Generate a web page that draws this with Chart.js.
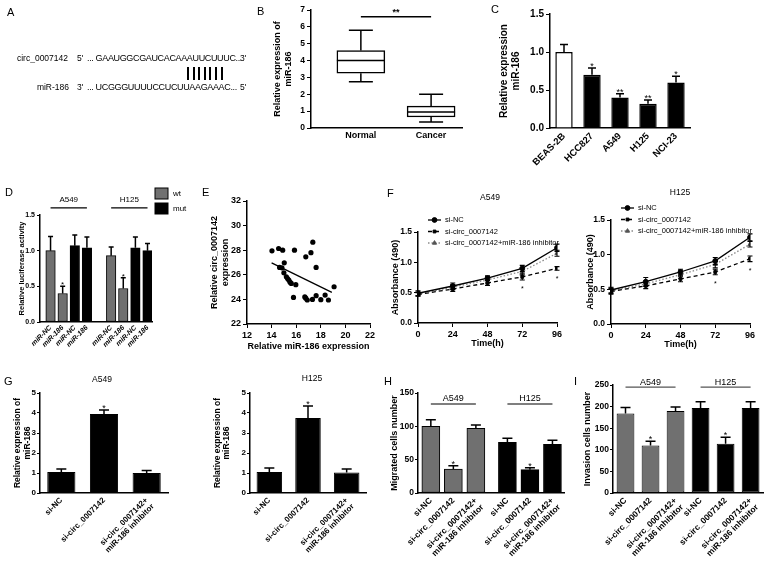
<!DOCTYPE html>
<html>
<head>
<meta charset="utf-8">
<title>circ_0007142 / miR-186</title>
<script src="https://cdn.jsdelivr.net/npm/chart.js@4.4.1/dist/chart.umd.min.js"></script>
<style>
  html, body { margin: 0; padding: 0; background: #fff; }
  body { position: relative; width: 767px; height: 574px; overflow: hidden; font-family: 'Liberation Sans', Arial, sans-serif; color: #000; }
  .txt { position: absolute; white-space: nowrap; line-height: 1; will-change: transform; }
  .pair { position: absolute; width: 2px; height: 13px; background: #000; }
</style>
</head>
<body>
<script>
// ---------- data ----------
// A: sequence alignment
const seqCirc = ['circ_0007142', "5'", '... GAAUGGCGAUCACAAAUUCUUUC...', "3'"];
const seqMir = ['miR-186', "3'", '... UCGGGUUUUCCUCUUAAGAAAC...', "5'"];
const pairCount = 7;

// B: box plot  [min, q1, median, q3, max]
const boxGroups = ['Normal', 'Cancer'];
const boxNormal = [2.75, 3.25, 4.0, 4.6, 5.8];
const boxCancer = [0.35, 0.65, 0.95, 1.3, 2.0];

// C: cell lines
const cellLines = ['BEAS-2B', 'HCC827', 'A549', 'H125', 'NCI-23'];
const expC = [1.0, 0.7, 0.4, 0.32, 0.6];
const errC = [0.1, 0.09, 0.05, 0.05, 0.08];
const starsC = ['', '*', '**', '**', '*'];

// D: luciferase (order: A549 miR-NC, A549 miR-186, H125 miR-NC, H125 miR-186)
const lucLabels = ['miR-NC', 'miR-186'];
const lucGroups = ['A549', 'H125'];
const lucWt = [1.0, 0.4, 0.93, 0.47];
const lucWtErr = [0.2, 0.1, 0.12, 0.15];
const lucWtStars = ['', '*', '', '*'];
const lucMut = [1.07, 1.04, 1.04, 1.0];
const lucMutErr = [0.15, 0.15, 0.15, 0.1];

// E: correlation
const corrX = [14.03, 14.57, 14.9, 14.65, 14.84, 15.03, 15.0, 15.2, 15.3, 15.4, 15.5, 15.6, 15.78, 15.97, 15.86,
  16.78, 17.2, 17.35, 17.62, 16.7, 16.78, 16.9, 17.32, 17.62, 18.0, 18.35, 18.62, 19.08];
const corrY = [27.95, 28.14, 28.0, 26.6, 26.57, 26.97, 26.16, 25.84, 25.7, 25.57, 25.4, 25.3, 24.16, 25.2, 28.0,
  27.46, 27.8, 28.65, 26.6, 24.2, 24.1, 23.95, 24.0, 24.3, 23.98, 24.35, 23.95, 25.03];
const fitX = [14.0, 18.9];
const fitY = [26.97, 24.57];

// F: growth curves
const timeH = [0, 24, 48, 72, 96];
const fSeries = ['si-NC', 'si-circ_0007142', 'si-circ_0007142+miR-186 inhibitor'];
const a549NC = [0.49, 0.61, 0.74, 0.9, 1.24];
const a549NCErr = [0.04, 0.05, 0.04, 0.05, 0.06];
const a549Si = [0.47, 0.56, 0.66, 0.76, 0.9];
const a549SiErr = [0.03, 0.04, 0.04, 0.05, 0.03];
const a549Inh = [0.48, 0.59, 0.71, 0.85, 1.15];
const a549InhErr = [0.03, 0.04, 0.05, 0.06, 0.05];
const h125NC = [0.49, 0.61, 0.75, 0.91, 1.25];
const h125NCErr = [0.04, 0.06, 0.04, 0.05, 0.05];
const h125Si = [0.47, 0.55, 0.65, 0.75, 0.94];
const h125SiErr = [0.04, 0.04, 0.04, 0.04, 0.04];
const h125Inh = [0.48, 0.58, 0.71, 0.86, 1.15];
const h125InhErr = [0.04, 0.04, 0.05, 0.05, 0.04];
const siStars = ['', '', '', '*', '*'];

// G, H, I: treatments
const cellGroups = ['A549', 'H125'];
const treat = ['si-NC', 'si-circ_0007142', ['si-circ_0007142+', 'miR-186 inhibitor']];
const treatStars = ['', '*', ''];
const qA549 = [1.05, 3.95, 1.0];
const qA549Err = [0.15, 0.2, 0.12];
const qH125 = [1.05, 3.75, 1.03];
const qH125Err = [0.2, 0.6, 0.17];
const migA549 = [100, 36, 97];
const migA549Err = [10, 5, 5];
const migH125 = [76, 35, 73];
const migH125Err = [6, 3, 6];
const invA549 = [184, 110, 190];
const invA549Err = [14, 10, 9];
const invH125 = [197, 114, 197];
const invH125Err = [14, 15, 14];

// ---------- helpers ----------
const FONT = "'Liberation Sans', Arial, sans-serif";
const blk = '#000';
const gray = '#707070';

Chart.defaults.font.family = FONT;
Chart.defaults.color = blk;
Chart.defaults.plugins.legend.display = false;
Chart.defaults.plugins.tooltip.enabled = false;

function addText(s, x, y, o = {}) {
    const d = document.createElement('div');
    d.className = 'txt';
    d.textContent = s;
    d.style.left = x + 'px';
    d.style.top = y + 'px';
    d.style.fontSize = (o.size || 9) + 'px';
    if (o.bold) d.style.fontWeight = 'bold';
    if (o.spacing) d.style.letterSpacing = o.spacing + 'px';
    const tx = o.align === 'right' ? '-100%' : o.align === 'left' ? '0' : '-50%';
    d.style.transform = `translate(${tx}, -50%)`;
    document.body.appendChild(d);
    return d;
}

// error bars, stars, box whiskers, brackets and legends
const extra = {
    id: 'extra',
    afterDatasetsDraw(chart, args, opts) {
        const ctx = chart.ctx;
        const xs = chart.scales.x;
        const ys = chart.scales.y;
        const area = chart.chartArea;
        ctx.save();
        ctx.strokeStyle = blk;
        ctx.fillStyle = blk;

        chart.data.datasets.forEach((ds, di) => {
            const meta = chart.getDatasetMeta(di);
            meta.data.forEach((el, i) => {
                const raw = ds.data[i];
                if (raw === null || raw === undefined) return;
                const v = typeof raw === 'object' ? raw.y : raw;

                if (ds.stats) {
                    const st = ds.stats[i];
                    const p = k => ys.getPixelForValue(st[k]);
                    const half = el.width / 2, cap = el.width / 4;
                    ctx.lineWidth = 1.5;
                    ctx.beginPath();
                    ctx.moveTo(el.x - half, p(2)); ctx.lineTo(el.x + half, p(2));
                    ctx.moveTo(el.x, p(3)); ctx.lineTo(el.x, p(4));
                    ctx.moveTo(el.x - cap, p(4)); ctx.lineTo(el.x + cap, p(4));
                    ctx.moveTo(el.x, p(1)); ctx.lineTo(el.x, p(0));
                    ctx.moveTo(el.x - cap, p(0)); ctx.lineTo(el.x + cap, p(0));
                    ctx.stroke();
                }

                if (ds.errors && ds.errors[i] != null) {
                    const e = ds.errors[i];
                    const cap = ds.errCap || 6;
                    const yTop = ys.getPixelForValue(v + e);
                    const yBot = ys.getPixelForValue(ds.errBoth ? v - e : v);
                    ctx.strokeStyle = blk;
                    ctx.lineWidth = ds.errWidth || 1.5;
                    ctx.beginPath();
                    ctx.moveTo(el.x, yBot); ctx.lineTo(el.x, yTop);
                    ctx.moveTo(el.x - cap / 2, yTop); ctx.lineTo(el.x + cap / 2, yTop);
                    if (ds.errBoth) {
                        ctx.moveTo(el.x - cap / 2, yBot); ctx.lineTo(el.x + cap / 2, yBot);
                    }
                    ctx.stroke();
                    if (ds.stars && ds.stars[i]) {
                        ctx.fillStyle = blk;
                        ctx.font = `${ds.starSize || 9}px ${FONT}`;
                        ctx.textAlign = 'center';
                        ctx.textBaseline = 'alphabetic';
                        if (ds.starBelow) ctx.fillText(ds.stars[i], el.x, yBot + 11);
                        else ctx.fillText(ds.stars[i], el.x, yTop + 1);
                    }
                }
            });
        });

        (opts.lines || []).forEach(L => {
            const y = ys.getPixelForValue(L.level);
            const xa = xs.getPixelForValue(L.from);
            const xb = xs.getPixelForValue(L.to);
            ctx.strokeStyle = L.color || blk;
            ctx.lineWidth = L.width || 1.3;
            ctx.beginPath();
            ctx.moveTo(xa, y); ctx.lineTo(xb, y);
            ctx.stroke();
            ctx.fillStyle = blk;
            ctx.font = L.fnt;
            ctx.textAlign = 'center';
            ctx.textBaseline = 'alphabetic';
            ctx.fillText(L.text, (xa + xb) / 2, y - (L.gap || 3));
        });

        if (opts.boxLegend) {
            const L = opts.boxLegend;
            chart.data.datasets.forEach((ds, di) => {
                const x = area.right + L.dx;
                const y = area.top + L.dy + di * L.row;
                ctx.fillStyle = ds.backgroundColor;
                ctx.fillRect(x, y, L.w, L.h);
                ctx.strokeStyle = blk;
                ctx.lineWidth = 1;
                ctx.strokeRect(x, y, L.w, L.h);
                ctx.fillStyle = blk;
                ctx.font = L.fnt;
                ctx.textAlign = 'left';
                ctx.textBaseline = 'middle';
                ctx.fillText(ds.label, x + L.w + 5, y + L.h / 2);
            });
        }

        if (opts.lineLegend) {
            const L = opts.lineLegend;
            chart.data.datasets.forEach((ds, di) => {
                const x = area.left + L.dx;
                const y = area.top + L.dy + di * L.row;
                ctx.strokeStyle = ds.borderColor;
                ctx.lineWidth = ds.borderWidth;
                ctx.setLineDash(ds.borderDash || []);
                ctx.beginPath();
                ctx.moveTo(x, y); ctx.lineTo(x + L.len, y);
                ctx.stroke();
                ctx.setLineDash([]);
                ctx.fillStyle = ds.pointBackgroundColor;
                ctx.strokeStyle = ds.pointBorderColor;
                ctx.lineWidth = 1;
                Chart.helpers.drawPoint(ctx, { pointStyle: ds.pointStyle, radius: ds.pointRadius, borderWidth: 1, rotation: 0 }, x + L.len / 2, y);
                ctx.fillStyle = blk;
                ctx.font = L.fnt;
                ctx.textAlign = 'left';
                ctx.textBaseline = 'middle';
                ctx.fillText(ds.label, x + L.len + 4, y);
            });
        }
        ctx.restore();
    }
};
Chart.register(extra);

function makeChart(area, yw, xh, padT, padR, cfg) {
    const [x0, x1, y0, y1] = area;
    const left = x0 - yw, top = y0 - padT;
    const w = Math.round(x1 + padR - left), h = Math.round(y1 + xh - top);
    const c = document.createElement('canvas');
    c.width = w;
    c.height = h;
    Object.assign(c.style, { position: 'absolute', left: left + 'px', top: top + 'px', width: w + 'px', height: h + 'px' });
    document.body.appendChild(c);
    const o = cfg.options;
    o.responsive = false;
    o.animation = false;
    o.devicePixelRatio = 1;
    o.layout = { padding: { left: 0, top: padT, right: padR, bottom: 0 } };
    o.scales.x.afterFit = s => { s.height = xh; };
    o.scales.y.afterFit = s => { s.width = yw; };
    return new Chart(c, cfg);
}

function axisY(min, max, step, title, o = {}) {
    const ticks = { stepSize: step, color: blk, padding: o.tpad ?? 2, font: { size: o.fs || 9, weight: 'bold' } };
    if (o.fmt) ticks.callback = o.fmt;
    return {
        type: 'linear', min, max, ticks,
        grid: { drawOnChartArea: false, color: blk, tickLength: o.tl || 4, lineWidth: 1 },
        border: { color: blk, width: 1.5 },
        title: { display: true, text: title, color: blk, font: { size: o.ts || 9, weight: 'bold', lineHeight: o.tlh || 1.2 }, padding: { top: o.tp || 0, bottom: 0 } }
    };
}

function axisCat(o = {}) {
    return {
        type: 'category',
        ticks: { color: blk, autoSkip: false, minRotation: 45, maxRotation: 45, padding: o.pad ?? 3,
                 font: { size: o.fs || 9, weight: 'bold', style: o.italic ? 'italic' : 'normal', lineHeight: 1.1 } },
        grid: { display: false, drawTicks: false },
        border: { color: blk, width: 1.5 }
    };
}

// linear x axis with ticks only at the given category positions
function axisPos(min, max, ticks, o = {}) {
    const rot = o.rot ?? 45;
    return {
        type: 'linear', min, max, offset: false,
        afterBuildTicks: s => { s.ticks = ticks.map(t => ({ value: t.value })); },
        ticks: { color: blk, autoSkip: false, minRotation: rot, maxRotation: rot, padding: o.pad ?? 3,
                 callback: (v, i) => ticks[i].label,
                 font: { size: o.fs || 9, weight: 'bold', style: o.italic ? 'italic' : 'normal', lineHeight: 1.1 } },
        grid: { display: false, drawTicks: false },
        border: { color: blk, width: 1.5 }
    };
}

function axisLin(min, max, step, title, o = {}) {
    return {
        type: 'linear', min, max,
        ticks: { stepSize: step, color: blk, padding: 2, maxRotation: 0, font: { size: o.fs || 9, weight: 'bold' } },
        grid: { drawOnChartArea: false, color: blk, tickLength: 4, lineWidth: 1 },
        border: { color: blk, width: 1.5 },
        title: { display: true, text: title, color: blk, font: { size: 9, weight: 'bold' }, padding: { top: 0, bottom: o.pb ?? 2 } }
    };
}

const fmt1 = v => v.toFixed(1);

// ---------- panel letters and free text ----------
addText('A', 7, 12, { size: 11, align: 'left' });
addText('B', 257, 11, { size: 11, align: 'left' });
addText('C', 491, 9, { size: 11, align: 'left' });
addText('D', 5, 192, { size: 11, align: 'left' });
addText('E', 202, 192, { size: 11, align: 'left' });
addText('F', 387, 193, { size: 11, align: 'left' });
addText('G', 4, 381, { size: 11, align: 'left' });
addText('H', 384, 381, { size: 11, align: 'left' });
addText('I', 574, 381, { size: 11, align: 'left' });

addText(seqCirc[0], 68, 58, { align: 'right', size: 8.5 });
addText(seqCirc[1], 77, 58, { align: 'left', size: 8.5 });
addText(seqCirc[2], 87, 58, { align: 'left', spacing: -0.35 });
addText(seqCirc[3], 240, 58, { align: 'left', size: 8.5 });
addText(seqMir[0], 69, 87, { align: 'right', size: 8.5 });
addText(seqMir[1], 77, 87, { align: 'left', size: 8.5 });
addText(seqMir[2], 87, 87, { align: 'left', spacing: -0.35 });
addText(seqMir[3], 240, 87, { align: 'left', size: 8.5 });
for (let i = 0; i < pairCount; i++) {
    const d = document.createElement('div');
    d.className = 'pair';
    d.style.left = (187 + i * 5.6) + 'px';
    d.style.top = '67px';
    document.body.appendChild(d);
}

addText('A549', 490, 197, { size: 8.5 });
addText('H125', 680, 192, { size: 8.5 });
addText('A549', 102, 379, { size: 8.5 });
addText('H125', 312, 378, { size: 8.5 });

// ---------- B ----------
makeChart([311, 462, 10, 128], 43, 20, 8, 6, {
    type: 'bar',
    data: {
        datasets: [{
            data: [boxNormal, boxCancer].map((s, i) => ({ x: i + 1, y: [s[1], s[3]] })),
            stats: [boxNormal, boxCancer],
            backgroundColor: '#fff', borderColor: blk, borderWidth: 1.5, borderSkipped: false,
            barThickness: 48, grouped: false
        }]
    },
    options: {
        scales: {
            x: axisPos(0.29, 2.44, boxGroups.map((g, i) => ({ value: i + 1, label: g })), { rot: 0, fs: 9 }),
            y: axisY(0, 7, 1, ['Relative expression of', 'miR-186'], { tp: 4, fs: 8.5 })
        },
        plugins: { extra: { lines: [{ from: 1, to: 2, level: 6.6, text: '**', fnt: 'bold 9px ' + FONT, gap: 2 }] } }
    }
});

// ---------- C ----------
makeChart([550, 690, 14, 128], 52, 52, 8, 8, {
    type: 'bar',
    data: {
        labels: cellLines,
        datasets: [{
            data: expC, errors: errC, stars: starsC, errCap: 8,
            backgroundColor: cellLines.map((c, i) => (i === 0 ? '#fff' : blk)),
            borderColor: blk, borderWidth: 1.5, barPercentage: 0.62, categoryPercentage: 1
        }]
    },
    options: {
        scales: {
            x: axisCat({ fs: 9.5 }),
            y: axisY(0, 1.5, 0.5, ['Relative expression', 'miR-186'], { fs: 10, ts: 10, fmt: fmt1 })
        }
    }
});

// ---------- D ----------
const lucPos = (k, shift) => Math.floor(k / 2) * 5 + (k % 2) + shift + 1;
const lucTicks = [];
lucGroups.forEach((g, gi) => {
    for (let k = 0; k < 4; k++) lucTicks.push({ value: gi * 5 + k + 1, label: lucLabels[k % 2] });
});
makeChart([40, 152, 215, 322], 30, 32, 28, 40, {
    type: 'bar',
    data: {
        datasets: [
            { label: 'wt', data: lucWt.map((v, k) => ({ x: lucPos(k, 0), y: v })), errors: lucWtErr, stars: lucWtStars, starSize: 8,
              backgroundColor: gray, borderColor: blk, borderWidth: 1, borderSkipped: false, barThickness: 9.5, grouped: false, errCap: 5 },
            { label: 'mut', data: lucMut.map((v, k) => ({ x: lucPos(k, 2), y: v })), errors: lucMutErr,
              backgroundColor: blk, borderColor: blk, borderWidth: 1, barThickness: 9.5, grouped: false, errCap: 5 }
        ]
    },
    options: {
        scales: {
            x: axisPos(0.13, 9.37, lucTicks, { fs: 7, italic: true, pad: 2 }),
            y: axisY(0, 1.5, 0.5, 'Relative luciferase activity', { fs: 7, ts: 7.5, tp: 7, tl: 3, fmt: fmt1 })
        },
        plugins: {
            extra: {
                lines: lucGroups.map((g, gi) => ({ from: gi * 5 + 1, to: gi * 5 + 4, level: 1.6, text: g, fnt: '8px ' + FONT, gap: 6 })),
                boxLegend: { dx: 3, dy: -27, row: 15, w: 13, h: 11, fnt: '8px ' + FONT }
            }
        }
    }
});

// ---------- E ----------
makeChart([247, 370, 201, 324], 42, 30, 8, 12, {
    type: 'scatter',
    data: {
        datasets: [
            { data: corrX.map((x, i) => ({ x, y: corrY[i] })), pointRadius: 2.6, backgroundColor: blk, borderWidth: 0 },
            { type: 'line', data: fitX.map((x, i) => ({ x, y: fitY[i] })), borderColor: blk, borderWidth: 1.3, pointRadius: 0, showLine: true, fill: false }
        ]
    },
    options: {
        scales: {
            x: axisLin(12, 22, 2, 'Relative miR-186 expression'),
            y: axisY(22, 32, 2, ['Relative circ_0007142', 'expression'], { tp: 4.6 })
        }
    }
});

// ---------- F ----------
const lineStyles = [
    { borderColor: blk, borderDash: [], pointStyle: 'circle', pointRadius: 2.4, pointBackgroundColor: blk, pointBorderColor: blk },
    { borderColor: blk, borderDash: [4, 3], pointStyle: 'rect', pointRadius: 2, pointBackgroundColor: blk, pointBorderColor: blk },
    { borderColor: '#8a8a8a', borderDash: [1.5, 2], pointStyle: 'triangle', pointRadius: 2.4, pointBackgroundColor: '#555', pointBorderColor: '#555' }
];
function growthChart(area, yw, tp, series) {
    return makeChart(area, yw, 28, 22, 12, {
        type: 'line',
        data: {
            datasets: series.map((s, k) => Object.assign({
                label: fSeries[k],
                data: timeH.map((t, i) => ({ x: t, y: s.v[i] })),
                errors: s.e, errBoth: true, errCap: 5, errWidth: 1.1,
                stars: s.stars, starBelow: true, starSize: 7,
                borderWidth: 1.3, pointBorderWidth: 1, fill: false, tension: 0
            }, lineStyles[k]))
        },
        options: {
            scales: {
                x: axisLin(0, 96, 24, 'Time(h)'),
                y: axisY(0, 1.5, 0.5, 'Absorbance (490)', { tp, fs: 8.5, fmt: fmt1 })
            },
            plugins: { extra: { lineLegend: { dx: 10, dy: -12, row: 11.5, len: 13, fnt: '7.5px ' + FONT } } }
        }
    });
}
growthChart([418, 557, 232, 323], 28, 0, [
    { v: a549NC, e: a549NCErr }, { v: a549Si, e: a549SiErr, stars: siStars }, { v: a549Inh, e: a549InhErr }
]);
growthChart([611, 750, 220, 324], 28, 2, [
    { v: h125NC, e: h125NCErr }, { v: h125Si, e: h125SiErr, stars: siStars }, { v: h125Inh, e: h125InhErr }
]);

// ---------- G ----------
function qpcrChart(area, yw, tp, vals, errs) {
    return makeChart(area, yw, 78, 10, 8, {
        type: 'bar',
        data: {
            labels: treat,
            datasets: [{ data: vals, errors: errs, stars: treatStars, errCap: 10,
                         backgroundColor: blk, borderColor: blk, borderWidth: 1, barPercentage: 0.66, categoryPercentage: 1 }]
        },
        options: {
            scales: {
                x: axisCat({ fs: 8 }),
                y: axisY(0, 5, 1, ['Relative expression of', 'miR-186'], { fs: 8, ts: 8.5, tlh: 1.1, tp, tl: 3, tpad: 1 })
            }
        }
    });
}
qpcrChart([40, 168, 393, 493], 28, 1.3, qA549, qA549Err);
qpcrChart([250, 366, 393, 493], 40, 3, qH125, qH125Err);

// ---------- H ----------
const hGap = 0.4;
const hPos = (gi, i) => gi * (treat.length + hGap) + i + 1;
const hTicks = [];
cellGroups.forEach((g, gi) => treat.forEach((t, i) => hTicks.push({ value: hPos(gi, i), label: t })));
makeChart([418, 565, 393, 493], 30, 78, 18, 4, {
    type: 'bar',
    data: {
        datasets: [
            { data: migA549.map((v, i) => ({ x: hPos(0, i), y: v })), errors: migA549Err, stars: treatStars, errCap: 10,
              backgroundColor: gray, borderColor: blk, borderWidth: 1, borderSkipped: false, barThickness: 18, grouped: false },
            { data: migH125.map((v, i) => ({ x: hPos(1, i), y: v })), errors: migH125Err, stars: treatStars, errCap: 10,
              backgroundColor: blk, borderColor: blk, borderWidth: 1, barThickness: 18, grouped: false }
        ]
    },
    options: {
        scales: {
            x: axisPos(0.43, 6.93, hTicks, { fs: 8.5 }),
            y: axisY(0, 150, 50, 'Migrated cells number', { fs: 8.5, tp: 1.6, tl: 3, tpad: 1 })
        },
        plugins: {
            extra: {
                lines: cellGroups.map((g, gi) => ({ from: hPos(gi, 0), to: hPos(gi, 2), level: 133.5, text: g, fnt: '9px ' + FONT, gap: 3, color: '#555' }))
            }
        }
    }
});

// ---------- I ----------
makeChart([613, 765, 385, 493], 32, 78, 10, 2, {
    type: 'bar',
    data: {
        labels: treat.concat(treat),
        datasets: [{
            data: invA549.concat(invH125), errors: invA549Err.concat(invH125Err), stars: treatStars.concat(treatStars), errCap: 10,
            backgroundColor: invA549.map(() => gray).concat(invH125.map(() => blk)),
            borderColor: blk, borderWidth: 1, borderSkipped: false, barPercentage: 0.71, categoryPercentage: 1
        }]
    },
    options: {
        scales: {
            x: axisCat({ fs: 8.5 }),
            y: axisY(0, 250, 50, 'Invasion cells number', { fs: 8.5, tp: 1.6, tl: 3, tpad: 1 })
        },
        plugins: {
            extra: {
                lines: cellGroups.map((g, gi) => ({ from: gi * 3, to: gi * 3 + 2, level: 245, text: g, fnt: '9px ' + FONT, gap: 2, color: '#555' }))
            }
        }
    }
});
</script>
</body>
</html>
